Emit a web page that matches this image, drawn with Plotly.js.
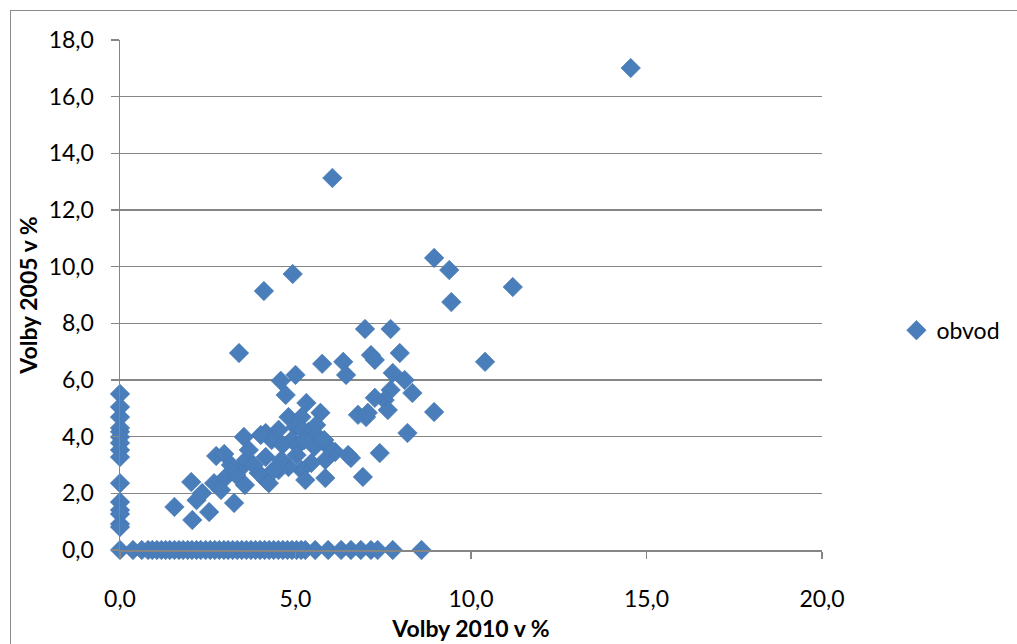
<!DOCTYPE html>
<html>
<head>
<meta charset="utf-8">
<script src="https://cdn.plot.ly/plotly-3.0.1.min.js"></script>
<style>
html,body{margin:0;padding:0;background:#fff;overflow:hidden;}
#wrap{position:relative;width:1017px;height:644px;}
#frame{position:absolute;left:10px;top:10px;width:1100px;height:700px;border:1.5px solid #8a8a8a;pointer-events:none;z-index:5;}
#chart{position:absolute;left:0;top:0;width:1017px;height:644px;}
</style>
</head>
<body>
<div id="wrap"><div id="chart"></div><div id="frame"></div></div>
<script>
// Volby 2010 v % (x) vs Volby 2005 v % (y), series "obvod"
const seriesName = "obvod";
const xTitle = "Volby 2010 v %";
const yTitle = "Volby 2005 v %";

// points with both values non-zero
const x2010 = [14.55, 6.05, 8.95, 9.38, 11.19, 4.92, 4.10, 9.44, 6.98, 7.71,
  3.39, 7.15, 7.26, 7.97, 10.40, 5.76, 6.36, 6.44, 4.58, 5.00,
  7.77, 8.11, 8.33, 7.71, 7.54, 7.26, 7.63, 6.78, 7.01, 8.95,
  8.19, 7.40, 6.58, 6.92, 4.72, 5.31, 5.71, 7.06, 4.80, 5.17,
  5.59, 4.15, 4.52, 5.00, 5.37, 4.89, 4.32, 6.13, 6.50, 5.85,
  5.45, 5.17, 4.80, 5.28, 5.85, 4.15, 4.52, 3.53, 4.01, 2.74,
  2.97, 2.03, 1.55, 2.06, 2.54, 3.25, 2.18, 2.34, 2.68, 3.02,
  3.39, 3.59, 3.67, 4.15, 4.24, 3.95, 4.38, 3.81, 3.31, 3.16,
  2.88, 3.56, 4.63, 5.08, 4.60, 5.03, 5.54, 5.20, 5.59, 5.93,
  5.82, 5.25];
const y2005 = [17.01, 13.13, 10.31, 9.88, 9.28, 9.74, 9.14, 8.75, 7.80, 7.80,
  6.95, 6.88, 6.71, 6.95, 6.64, 6.57, 6.64, 6.18, 5.97, 6.18,
  6.25, 6.00, 5.54, 5.65, 5.29, 5.37, 4.94, 4.77, 4.69, 4.87,
  4.13, 3.42, 3.25, 2.58, 5.47, 5.19, 4.84, 4.84, 4.69, 4.69,
  4.06, 4.13, 4.24, 4.34, 4.17, 3.88, 3.88, 3.46, 3.35, 3.18,
  3.07, 2.82, 2.93, 2.47, 2.54, 2.47, 2.82, 3.99, 4.06, 3.32,
  3.39, 2.40, 1.52, 1.06, 1.34, 1.66, 1.76, 2.01, 2.36, 2.58,
  2.82, 3.18, 3.53, 3.28, 2.36, 2.72, 2.82, 3.00, 2.65, 3.00,
  2.12, 2.29, 3.71, 3.71, 3.18, 3.35, 3.64, 4.24, 4.41, 3.64,
  3.88, 3.88];

// points with 0 in 2010 (column on the y axis)
const yAtZero2010 = [5.51, 5.05, 4.69, 4.31, 4.17, 3.99, 3.78, 3.53, 3.28, 2.36,
  1.69, 1.41, 1.27, 0.92, 0.81, 0.00];

// points with 0 in 2005 (row on the x axis)
const xAtZero2005 = [0.37, 0.62, 0.80, 0.92, 1.05, 1.18, 1.30, 1.42, 1.55, 1.68,
  1.80, 1.93, 2.05, 2.18, 2.30, 2.44, 2.57, 2.70, 2.83, 2.96,
  3.08, 3.21, 3.34, 3.47, 3.60, 3.73, 3.86, 3.99, 4.12, 4.25,
  4.38, 4.51, 4.64, 4.77, 4.90, 5.03, 5.16, 5.28, 5.56, 5.93,
  6.30, 6.58, 6.86, 7.15, 7.34, 7.77, 8.59];

const xs = x2010.concat(yAtZero2010.map(() => 0), xAtZero2005);
const ys = y2005.concat(yAtZero2010, xAtZero2005.map(() => 0));

const font = "Lato, 'Open Sans', sans-serif";
const grid = "#868686";

Plotly.newPlot("chart", [{
  type: "scatter",
  mode: "markers",
  name: seriesName,
  x: xs,
  y: ys,
  cliponaxis: false,
  marker: {symbol: "diamond", size: 15, color: "#4a7ebb", line: {width: 0.6, color: "#4575b0"}}
}], {
  width: 1017,
  height: 644,
  margin: {l: 120, r: 189, t: 40, b: 94},
  paper_bgcolor: "#ffffff",
  plot_bgcolor: "#ffffff",
  separators: ", ",
  font: {family: font, size: 23, color: "#000"},
  showlegend: true,
  legend: {x: 1.106, y: 0.431, xanchor: "left", yanchor: "middle", font: {size: 23, family: font}, itemwidth: 30, bgcolor: "rgba(0,0,0,0)"},
  xaxis: {
    range: [0, 20], dtick: 5, tick0: 0, tickformat: ".1f",
    showgrid: false, zeroline: false,
    showline: true, linecolor: grid, linewidth: 1.5,
    ticks: "outside", ticklen: 7, tickcolor: grid, tickwidth: 1.5,
    ticklabelstandoff: 21,
    title: {text: "<b>" + xTitle + "</b>", font: {size: 23, family: font}, standoff: 10}
  },
  yaxis: {
    range: [0, 18], dtick: 2, tick0: 0, tickformat: ".1f",
    showgrid: true, gridcolor: grid, gridwidth: 1.5, zeroline: false,
    showline: true, linecolor: grid, linewidth: 1.5,
    ticks: "outside", ticklen: 8, tickcolor: grid, tickwidth: 1.5,
    ticklabelstandoff: 12,
    title: {text: "<b>" + yTitle + "</b>", font: {size: 23, family: font}, standoff: 4}
  }
}, {displayModeBar: false, staticPlot: true});
</script>
</body>
</html>
